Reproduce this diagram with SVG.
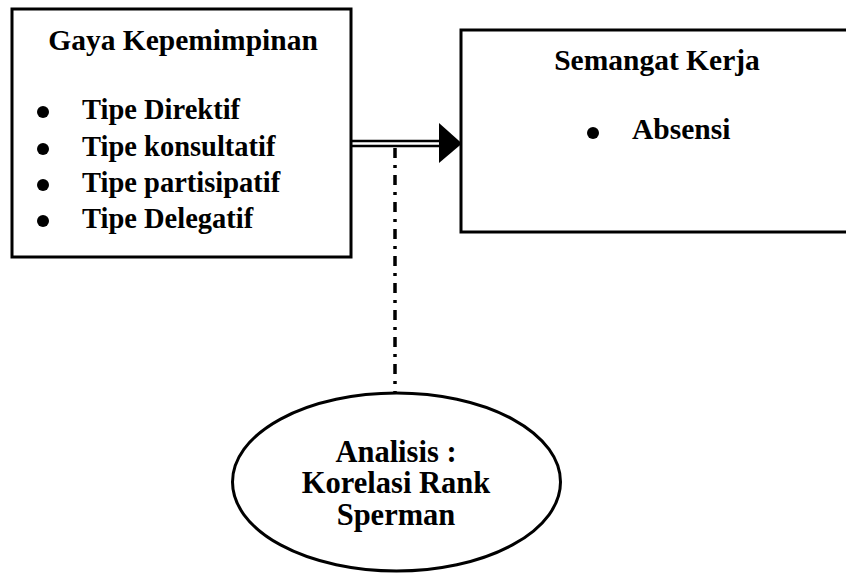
<svg xmlns="http://www.w3.org/2000/svg" width="846" height="574" viewBox="0 0 846 574">
<style>
.box{fill:#fff;stroke:#000;stroke-width:3}
.t{font-family:"Liberation Serif","Times New Roman",serif;font-weight:bold;fill:#000}
.c{text-anchor:middle}
.conn{stroke:#000;fill:none}
</style>
<rect width="846" height="574" fill="#fff"/>
<g id="gaya-kepemimpinan">
<rect class="box" x="12" y="9" width="339" height="248"/>
<text class="t c" x="183" y="50" font-size="29.5">Gaya Kepemimpinan</text>
<circle cx="43" cy="112" r="6"/>
<circle cx="43" cy="149" r="6"/>
<circle cx="43" cy="185" r="6"/>
<circle cx="43" cy="221" r="6"/>
<text class="t" x="82" y="119" font-size="28.5">Tipe Direktif</text>
<text class="t" x="82" y="156" font-size="28.5">Tipe konsultatif</text>
<text class="t" x="82" y="192" font-size="28.5">Tipe partisipatif</text>
<text class="t" x="82" y="228" font-size="28.5">Tipe Delegatif</text>
</g>
<g id="semangat-kerja">
<rect class="box" x="461" y="30" width="400" height="202"/>
<text class="t c" x="657" y="70" font-size="29.5">Semangat Kerja</text>
<circle cx="593" cy="133" r="6"/>
<text class="t" x="632" y="139" font-size="29.5">Absensi</text>
</g>
<g id="analisis">
<ellipse class="box" cx="396.5" cy="482" rx="164" ry="89" stroke-width="2.5"/>
<text class="t c" x="396" y="462" font-size="30.5">Analisis :</text>
<text class="t c" x="396" y="493" font-size="30.5">Korelasi Rank</text>
<text class="t c" x="396" y="525" font-size="30.5">Sperman</text>
</g>
<g id="connectors">
<line class="conn" x1="352" y1="141" x2="440" y2="141" stroke-width="2.6"/>
<line class="conn" x1="352" y1="146" x2="440" y2="146" stroke-width="2.6"/>
<polygon points="439,123 462,143.5 439,163" fill="#000"/>
<line class="conn" x1="395" y1="148" x2="395" y2="392" stroke-width="3.5" stroke-dasharray="10 7 3 7"/>
</g>
</svg>
